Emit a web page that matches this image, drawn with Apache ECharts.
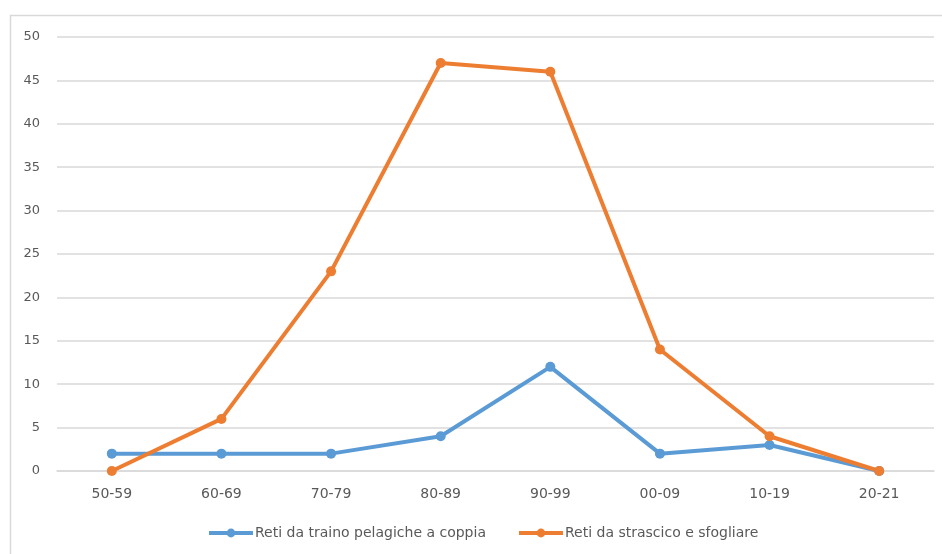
<!DOCTYPE html>
<html><head><meta charset="utf-8">
<script src="https://cdn.jsdelivr.net/npm/echarts@6/dist/echarts.min.js"></script>
<style>html,body{margin:0;padding:0;background:#fff}#c{width:942px;height:554px}</style>
</head><body><div id="c"></div>
<script>
var categories = ["50-59","60-69","70-79","80-89","90-99","00-09","10-19","20-21"];
var pelagiche = [2,2,2,4,12,2,3,0];
var strascico = [0,6,23,47,46,14,4,0];
var seriesNames = ["Reti da traino pelagiche a coppia","Reti da strascico e sfogliare"];
var chart = echarts.init(document.getElementById('c'));
var font = "'DejaVu Sans', sans-serif";
chart.setOption({
  animation:false,
  backgroundColor:'#fff',
  graphic:[{type:'rect',shape:{x:10.5,y:15.5,width:960,height:560},style:{fill:'none',stroke:'#d9d9d9',lineWidth:1.5},silent:true}],
  grid:{left:57,right:8,top:37,bottom:83},
  legend:{bottom:14,left:207,padding:0,itemWidth:44,itemHeight:11,itemGap:31,
    lineStyle:{width:4},
    textStyle:{color:'#595959',fontSize:14,fontFamily:font,padding:[0,0,0,-3]},
    data:seriesNames},
  xAxis:{type:'category',data:categories,boundaryGap:true,
    axisLine:{show:true,lineStyle:{color:'#d9d9d9',width:1.5}},axisTick:{show:false},
    axisLabel:{color:'#595959',fontSize:14,fontFamily:font,margin:16}},
  yAxis:{type:'value',min:0,max:50,interval:5,
    axisLine:{show:false},axisTick:{show:false},
    splitLine:{lineStyle:{color:'#d9d9d9',width:1.5}},
    axisLabel:{color:'#595959',fontSize:13,fontFamily:font,margin:17,align:'right'}},
  series:[
    {name:seriesNames[0],type:'line',data:pelagiche,symbol:'circle',symbolSize:10,
     lineStyle:{color:'#5b9bd5',width:4},itemStyle:{color:'#5b9bd5'}},
    {name:seriesNames[1],type:'line',data:strascico,symbol:'circle',symbolSize:10,
     lineStyle:{color:'#ed7d31',width:4},itemStyle:{color:'#ed7d31'}}
  ]
});
</script></body></html>
